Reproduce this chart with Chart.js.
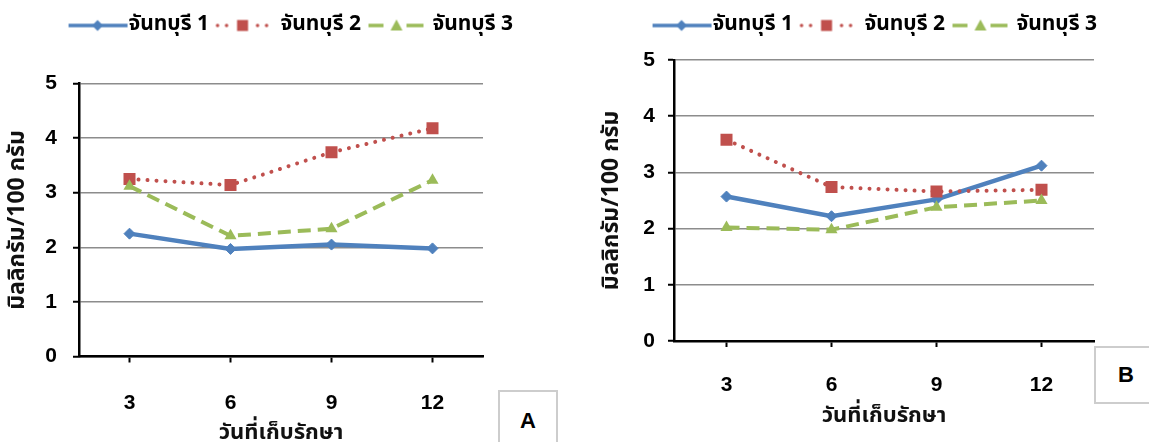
<!DOCTYPE html>
<html>
<head>
<meta charset="utf-8">
<script src="https://cdn.jsdelivr.net/npm/chart.js@4.4.1/dist/chart.umd.min.js"></script>
<style>
  html, body { margin: 0; padding: 0; background: #fff; width: 1149px; height: 442px; overflow: hidden; }
  .wrap { position: absolute; top: 0; height: 442px; }
  #wa { left: 0; width: 586px; }
  #wb { left: 575px; width: 604px; }
  .tag { position: absolute; box-sizing: border-box; border: 2px solid #cdcdcd; background: #fff;
         font: bold 22px "Liberation Sans", Arial, sans-serif; color: #000; }
  #ta { left: 498px; top: 390px; width: 60px; height: 62px; line-height: 58px; text-align: center; }
  #tb { left: 1094px; top: 346px; width: 80px; height: 58px; line-height: 54px; padding-left: 22px; }
</style>
</head>
<body>
<div class="wrap" id="wa"><canvas id="chartA" width="586" height="442"></canvas></div>
<div class="wrap" id="wb"><canvas id="chartB" width="604" height="442"></canvas></div>
<div class="tag" id="ta">A</div>
<div class="tag" id="tb">B</div>

<script>
// storage days and the three samples
var days = ['3', '6', '9', '12'];
var seriesNames = ['จันทบุรี 1', 'จันทบุรี 2', 'จันทบุรี 3'];
var yTicks = [0, 1, 2, 3, 4, 5];

// panel A
var a1 = [2.25, 1.97, 2.05, 1.98];
var a2 = [3.25, 3.14, 3.74, 4.18];
var a3 = [3.12, 2.21, 2.34, 3.23];

// panel B
var b1 = [2.57, 2.22, 2.52, 3.12];
var b2 = [3.58, 2.74, 2.66, 2.69];
var b3 = [2.02, 1.98, 2.38, 2.50];

var yTitle = 'มิลลิกรัม/100 กรัม';
var xTitle = 'วันที่เก็บรักษา';

var blue = '#4F81BD', red = '#C0504D', green = '#9BBB59';
var thaiFont = 'Tahoma, "Noto Sans Thai", "Noto Sans", "DejaVu Sans", sans-serif';
var numFont = '"Liberation Sans", Arial, sans-serif';
var legendSize = 21;

// line+marker pictures for the legend, right edge touches the text
function legendIcon(kind) {
    var c = document.createElement('canvas');
    c.width = 66; c.height = 16;
    var g = c.getContext('2d');
    var cy = 8;
    if (kind === 0) {
        g.strokeStyle = blue; g.lineWidth = 3.5;
        g.beginPath(); g.moveTo(6, cy); g.lineTo(65, cy); g.stroke();
        g.fillStyle = blue;
        g.beginPath(); g.moveTo(29.5, cy); g.lineTo(35, cy - 5.5); g.lineTo(40.5, cy); g.lineTo(35, cy + 5.5); g.closePath(); g.fill();
    } else if (kind === 1) {
        g.strokeStyle = red; g.lineWidth = 3.5; g.lineCap = 'round';
        g.setLineDash([0.01, 9]);
        g.beginPath(); g.moveTo(3, cy); g.lineTo(20, cy); g.stroke();
        g.beginPath(); g.moveTo(43, cy); g.lineTo(54, cy); g.stroke();
        g.fillStyle = red;
        g.fillRect(22.5, cy - 5.5, 11, 11);
    } else {
        g.strokeStyle = green; g.lineWidth = 3.5;
        g.beginPath(); g.moveTo(2, cy); g.lineTo(17, cy); g.stroke();
        g.beginPath(); g.moveTo(40, cy); g.lineTo(57, cy); g.stroke();
        g.fillStyle = green;
        g.beginPath(); g.moveTo(30, cy - 6); g.lineTo(36, cy + 5); g.lineTo(24, cy + 5); g.closePath(); g.fill();
    }
    return c;
}
var icons = [legendIcon(0), legendIcon(1), legendIcon(2)];

function fixLegendHeight(h) {
    return {
        id: 'fixLegendHeight',
        beforeUpdate: function (chart) {
            var lg = chart.legend;
            if (lg && !lg._patched) {
                var fit = lg.fit;
                lg.fit = function () { fit.call(this); this.height = h; };
                lg._patched = true;
            }
        }
    };
}

function makeChart(id, s1, s2, s3, L) {
    var ctx = document.getElementById(id);
    return new Chart(ctx, {
        type: 'line',
        data: {
            labels: days,
            datasets: [{
                label: seriesNames[0],
                data: s1,
                order: 2,
                borderColor: blue,
                backgroundColor: blue,
                borderWidth: 4.5,
                pointStyle: 'rectRot',
                pointRadius: 5.5,
                pointBorderWidth: 1,
                pointBorderColor: blue,
                pointBackgroundColor: blue,
                tension: 0
            }, {
                label: seriesNames[1],
                data: s2,
                order: 1,
                borderColor: red,
                backgroundColor: red,
                borderWidth: 4,
                borderDash: [0.01, 9],
                borderCapStyle: 'round',
                pointStyle: 'rect',
                pointRadius: 8.5,
                pointBorderWidth: 0,
                pointBackgroundColor: red,
                tension: 0
            }, {
                label: seriesNames[2],
                data: s3,
                order: 0,
                borderColor: green,
                backgroundColor: green,
                borderWidth: 4,
                borderDash: [13, 7],
                pointStyle: 'triangle',
                pointRadius: 7,
                pointBorderWidth: 0,
                pointBackgroundColor: green,
                tension: 0
            }]
        },
        options: {
            responsive: false,
            animation: false,
            devicePixelRatio: 1,
            layout: { padding: { left: 0, right: 0, top: -1, bottom: 0 } },
            plugins: {
                tooltip: { enabled: false },
                legend: {
                    position: 'top',
                    labels: {
                        usePointStyle: true,
                        pointStyleWidth: 66 - legendSize,
                        padding: 16,
                        color: '#000',
                        font: { family: thaiFont, size: legendSize, weight: 'bold' },
                        generateLabels: function (chart) {
                            var items = Chart.defaults.plugins.legend.labels.generateLabels(chart);
                            items.sort(function (p, q) { return p.datasetIndex - q.datasetIndex; });
                            items.forEach(function (it) { it.pointStyle = icons[it.datasetIndex]; });
                            return items;
                        }
                    }
                }
            },
            scales: {
                x: {
                    offset: true,
                    grid: { offset: false, drawOnChartArea: false, tickColor: '#000', tickLength: 6, tickWidth: 2 },
                    border: { color: '#000', width: 2.5 },
                    ticks: { color: '#000', padding: L.xTickPad, maxRotation: 0,
                             font: { family: numFont, size: 21, weight: 'bold' } },
                    title: { display: true, text: xTitle, color: '#111',
                             font: { family: thaiFont, size: 22, weight: 'bold', lineHeight: 1 },
                             padding: { top: 0, bottom: L.xTitlePad } },
                    afterFit: function (s) { s.height = L.xH; }
                },
                y: {
                    min: yTicks[0],
                    max: yTicks[yTicks.length - 1],
                    afterBuildTicks: function (s) { s.ticks = yTicks.map(function (v) { return { value: v }; }); },
                    grid: { color: '#8c8c8c', lineWidth: 1.5, tickColor: '#000', tickLength: 6, tickWidth: 2 },
                    border: { color: '#000', width: 2.5 },
                    ticks: { color: '#000', padding: L.yTickPad,
                             font: { family: numFont, size: 21, weight: 'bold' } },
                    title: { display: true, text: yTitle, color: '#111',
                             font: { family: thaiFont, size: 23, weight: 'bold', lineHeight: 1.2 },
                             padding: { top: L.yTitlePad, bottom: 0 } },
                    afterFit: function (s) { s.width = L.yW; }
                },
                yR: {
                    position: 'right',
                    display: true,
                    grid: { display: false, drawTicks: false },
                    border: { display: false },
                    ticks: { display: false },
                    afterFit: function (s) { s.width = L.rW; }
                }
            }
        },
        plugins: [fixLegendHeight(L.legendH)]
    });
}

makeChart('chartA', a1, a2, a3, {
    legendH: 84.5, yW: 79, rW: 103, xH: 85.5,
    yTickPad: 16, yTitlePad: 6, xTickPad: 28, xTitlePad: -4
});
makeChart('chartB', b1, b2, b3, {
    legendH: 61, yW: 99, rW: 85, xH: 101,
    yTickPad: 13, yTitlePad: 25, xTickPad: 26, xTitlePad: 13
});
</script>
</body>
</html>
